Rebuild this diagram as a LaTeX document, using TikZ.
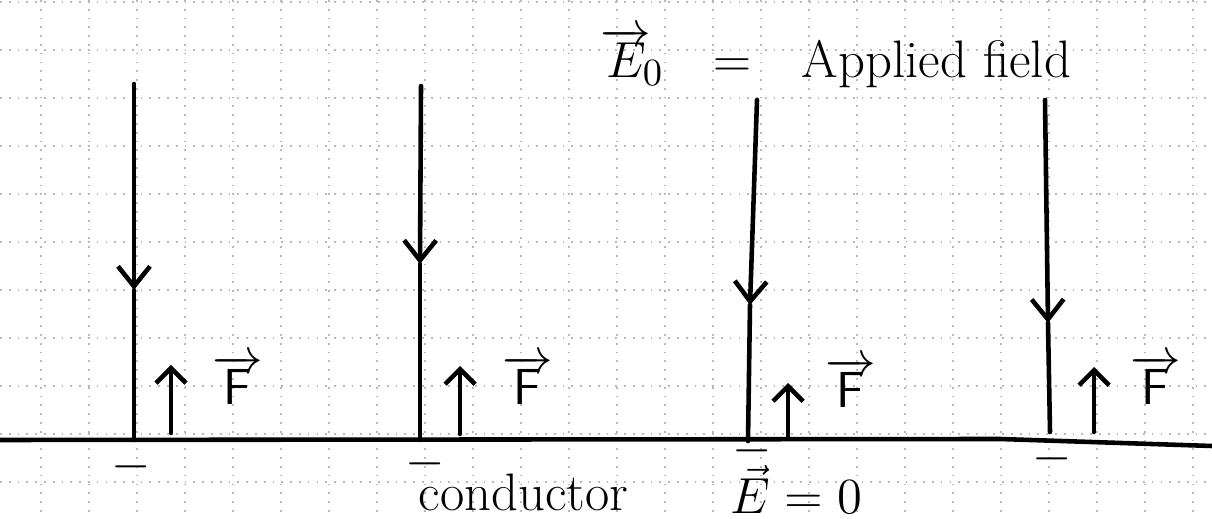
\documentclass[tikz,border=0pt]{standalone}
\usetikzlibrary{arrows.meta}

\newcommand{\handsize}{\fontsize{15}{18}\selectfont}

\begin{document}
\begin{tikzpicture}[x=0.01cm, y=-0.01cm,
        gridln/.style={gray!55, dotted, line width=0.5pt},
        pen/.style={line width=1.3pt, line cap=round},
        fieldtip/.style={-{Straight Barb[length=2mm, width=3.2mm]}},
        force/.style={pen, -{Straight Barb[length=1.5mm, width=3mm]}},
        lbl/.style={font=\handsize, inner sep=0pt},
        charge/.style={font=\fontsize{14}{16}\selectfont, inner sep=0pt}]

      \useasboundingbox (0,0) rectangle (1212,519);

      % squared paper
      \foreach \k in {0,...,24}
        \draw[gridln] ({40.7+48*\k},0) -- ({40.7+48*\k},519);
      \foreach \k in {0,...,10}
        \draw[gridln] (0,{1.7+48*\k}) -- (1212,{1.7+48*\k});

      % conductor surface
      \coordinate (cl) at (0,440);
      \coordinate (ck) at (1000,439);
      \coordinate (cr) at (1212,446);
      \draw[pen] (cl) -- (ck) -- (cr);

      % applied field label
      \node[lbl, anchor=base west] (title) at (600,78)
        {$\overrightarrow{E}\!_{0}$\hspace{5mm}=\hspace{5mm}Applied field};

      % line 1
      \coordinate (t1) at (134,84);
      \coordinate (m1) at (134,290);
      \coordinate (b1) at (134,440);
      \draw[pen, fieldtip] (t1) -- (m1);
      \draw[pen] (m1) -- (b1);
      \coordinate (f1s) at (171,433);
      \coordinate (f1e) at (171,365);
      \draw[force] (f1s) -- (f1e);
      \node[lbl, anchor=base west] (F1) at (212,405) {$\overrightarrow{\mathsf{F}}$};
      \node[charge] (q1) at (131,467) {$-$};

      % line 2
      \coordinate (t2) at (421,86);
      \coordinate (m2) at (420,264);
      \coordinate (b2) at (420,440);
      \draw[pen, fieldtip] (t2) -- (m2);
      \draw[pen] (m2) -- (b2);
      \coordinate (f2s) at (460,434);
      \coordinate (f2e) at (460,366);
      \draw[force] (f2s) -- (f2e);
      \node[lbl, anchor=base west] (F2) at (502,405) {$\overrightarrow{\mathsf{F}}$};
      \node[charge] (q2) at (425,464) {$-$};

      % line 3
      \coordinate (t3) at (757,100);
      \coordinate (m3) at (750,305);
      \coordinate (b3) at (748,441);
      \draw[pen, fieldtip] (t3) -- (m3);
      \draw[pen] (m3) -- (b3);
      \coordinate (f3s) at (788,437);
      \coordinate (f3e) at (788,383);
      \draw[force] (f3s) -- (f3e);
      \node[lbl, anchor=base west] (F3) at (825,408) {$\overrightarrow{\mathsf{F}}$};
      \node[charge] (q3) at (752,451) {$-$};

      % line 4
      \coordinate (t4) at (1045,100);
      \coordinate (m4) at (1048,323);
      \coordinate (b4) at (1050,432);
      \draw[pen, fieldtip] (t4) -- (m4);
      \draw[pen] (m4) -- (b4);
      \coordinate (f4s) at (1094,432);
      \coordinate (f4e) at (1094,367);
      \draw[force] (f4s) -- (f4e);
      \node[lbl, anchor=base west] (F4) at (1130,405) {$\overrightarrow{\mathsf{F}}$};
      \node[charge] (q4) at (1052,459) {$-$};

      % labels under the surface
      \node[lbl, anchor=base west] (cond) at (418,511) {conductor};
      \node[lbl, anchor=base west, font=\fontsize{14}{16}\selectfont] (ezero) at (730,514)
        {$\vec{E} = 0$};
    \end{tikzpicture}
\end{document}
